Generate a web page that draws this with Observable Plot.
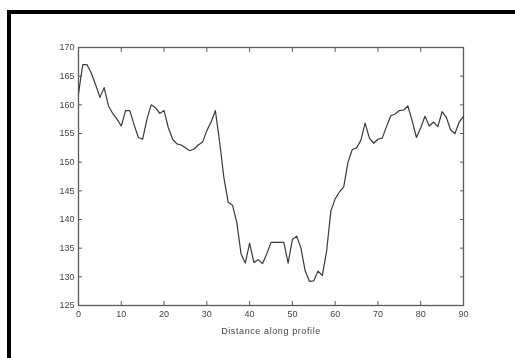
<!DOCTYPE html>
<html>
<head>
<meta charset="utf-8">
<script src="https://cdn.jsdelivr.net/npm/d3@7"></script>
<script src="https://cdn.jsdelivr.net/npm/@observablehq/plot@0.6"></script>
<style>
  html, body { margin: 0; padding: 0; background: #fff; }
  #chart { position: relative; width: 515px; height: 358px; overflow: hidden; background: #fff; }
  #chart svg { position: absolute; left: 0; top: 0; filter: blur(0.35px); }
  #chart svg [aria-label="x-axis label"] text { letter-spacing: 0.6px; }
  #chart .edge {
    position: absolute; left: 7px; top: 10px; right: -20px; bottom: -20px;
    border-top: 4px solid #000; border-left: 4px solid #000; pointer-events: none;
  }
</style>
</head>
<body>
<div id="chart"><div class="edge"></div></div>
<script>
// Elevation sampled along the profile line
const distance = d3.range(0, 91);
const elevation = [
  162, 167, 167, 165.5, 163.5, 161.3, 163, 159.8, 158.5, 157.5,
  156.3, 159, 159, 156.5, 154.3, 154, 157.5, 160, 159.5, 158.5,
  159, 156, 154, 153.2, 153, 152.5, 152, 152.3, 153, 153.5,
  155.5, 157, 159, 153.5, 147.2, 143, 142.5, 139.5, 134, 132.4,
  135.9, 132.5, 133, 132.3, 134, 136, 136, 136, 136, 132.4,
  136.5, 137.1, 135, 131, 129.2, 129.3, 131, 130.2, 134.5, 141.5,
  143.6, 144.8, 145.7, 150, 152.2, 152.5, 153.8, 156.8, 154.2, 153.3,
  154, 154.2, 156.2, 158.1, 158.4, 159, 159.1, 159.8, 157.2, 154.3,
  156, 158, 156.3, 157, 156.2, 158.8, 157.8, 155.6, 155, 157,
  158
];
const xTicks = [0, 10, 20, 30, 40, 50, 60, 70, 80, 90];
const yTicks = [125, 130, 135, 140, 145, 150, 155, 160, 165, 170];
const xLabel = "Distance along profile";

const profile = distance.map((d, i) => ({distance: d, elevation: elevation[i]}));
const blank = () => "";

const plot = Plot.plot({
  width: 515,
  height: 358,
  marginLeft: 78,
  marginRight: 52,
  marginTop: 47,
  marginBottom: 53,
  style: {
    fontFamily: "'Liberation Sans', Arial, sans-serif",
    fontSize: "9px",
    color: "#444",
    background: "transparent"
  },
  x: {domain: [0, 90]},
  y: {domain: [125, 170]},
  marks: [
    Plot.frame({stroke: "#5a5a5a", strokeWidth: 1.3}),
    // tick labels and axis title
    Plot.axisX(xTicks, {anchor: "bottom", tickSize: 0, tickPadding: 5, label: xLabel, labelAnchor: "center", labelArrow: "none", labelOffset: 28}),
    Plot.axisY(yTicks, {anchor: "left", tickSize: 0, tickPadding: 4, label: null}),
    // inward-pointing ticks on all four sides
    Plot.axisX(xTicks, {anchor: "bottom", tickSize: -4, tickFormat: blank, label: null, stroke: "#5a5a5a"}),
    Plot.axisX(xTicks, {anchor: "top", tickSize: -4, tickFormat: blank, label: null, stroke: "#5a5a5a"}),
    Plot.axisY(yTicks, {anchor: "left", tickSize: -4, tickFormat: blank, label: null, stroke: "#5a5a5a"}),
    Plot.axisY(yTicks, {anchor: "right", tickSize: -4, tickFormat: blank, label: null, stroke: "#5a5a5a"}),
    Plot.line(profile, {x: "distance", y: "elevation", stroke: "#3a3a3a", strokeWidth: 1.2})
  ]
});

document.getElementById("chart").appendChild(plot);
</script>
</body>
</html>
